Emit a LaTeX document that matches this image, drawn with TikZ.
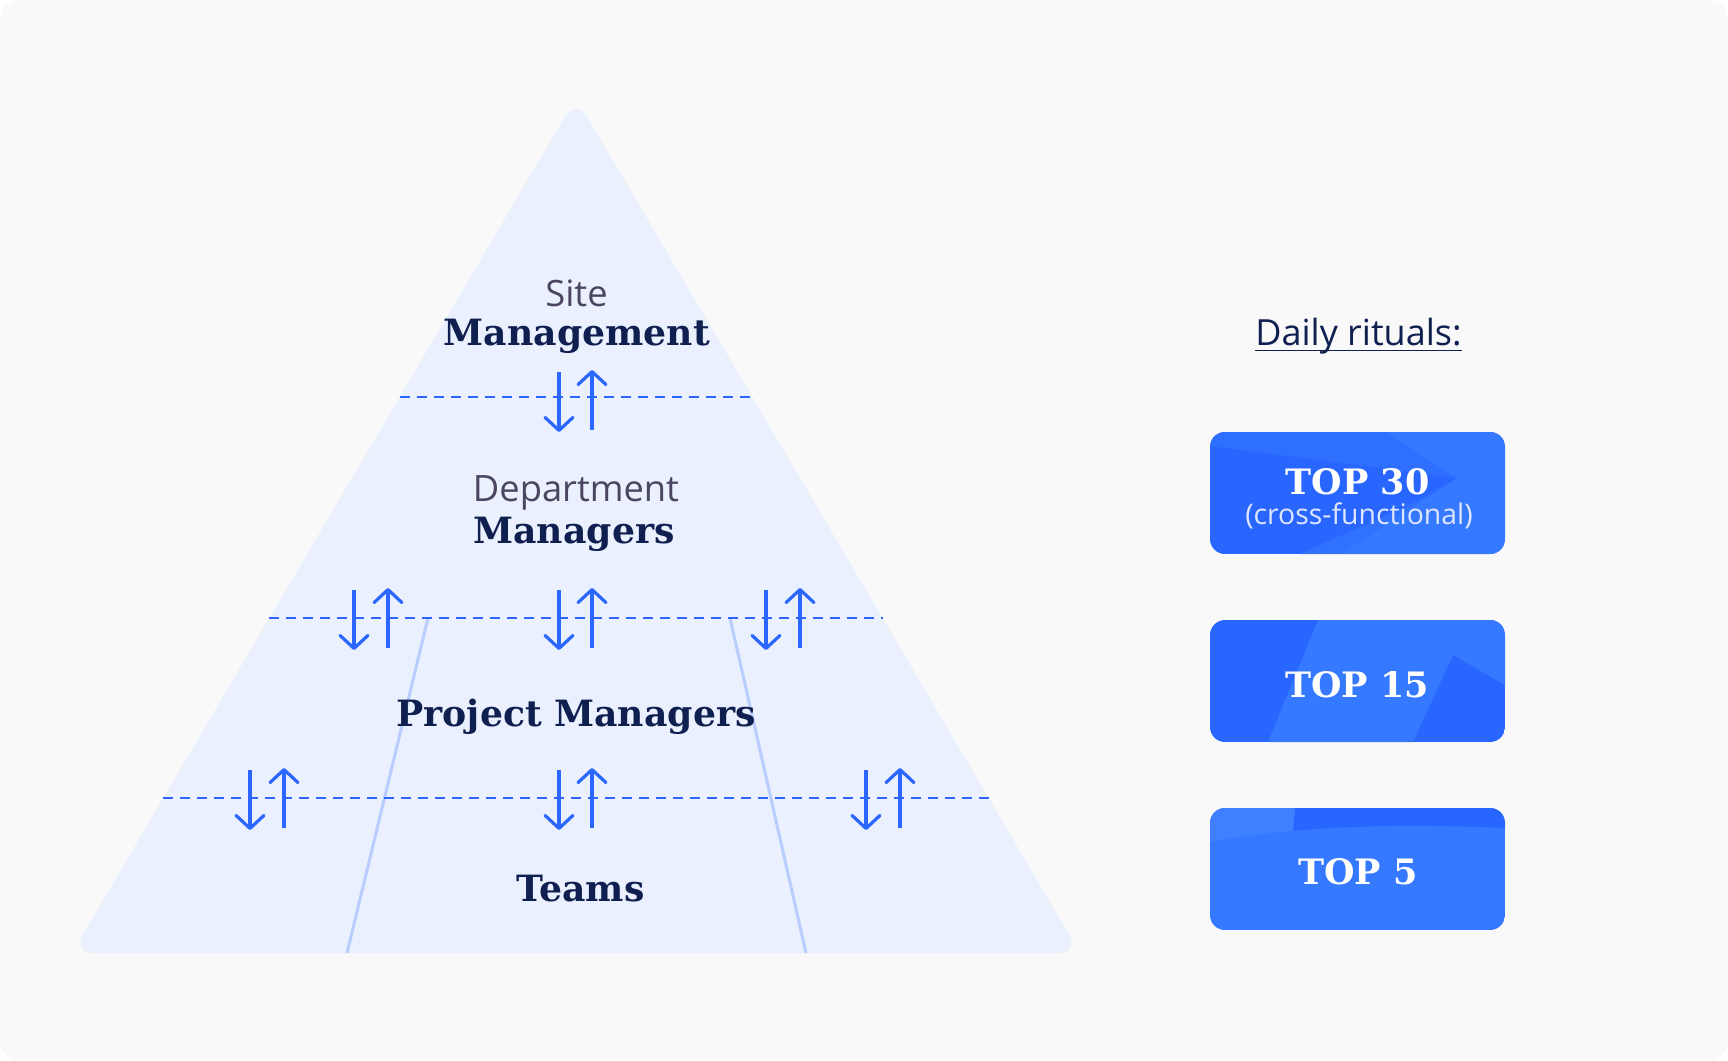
\documentclass[tikz,border=0pt]{standalone}
\usepackage{fontspec}
\setmainfont{Open Sans}
\newfontfamily\serfont{DejaVu Serif}
\usetikzlibrary{arrows.meta,calc}
\definecolor{bg}{HTML}{F9F9F9}
\definecolor{pyr}{HTML}{EAF0FE}
\definecolor{navy}{HTML}{0F1F50}
\definecolor{grayv}{HTML}{4A4662}
\definecolor{accent}{HTML}{2B66FF}
\definecolor{lane}{HTML}{BACDFF}
\definecolor{boxa}{HTML}{2966FF}
\definecolor{boxb}{HTML}{3479FF}
\definecolor{subtxt}{HTML}{DDE5FF}
\begin{document}
\begin{tikzpicture}[x=1pt,y=-1pt,
  lbl/.style={anchor=base, inner sep=0pt, text=navy, font=\serfont\bfseries\fontsize{36.2}{42}\selectfont},
  sublbl/.style={anchor=base, inner sep=0pt, text=grayv, font=\fontsize{36.3}{42}\selectfont},
  boxlbl/.style={anchor=base, inner sep=0pt, text=white, font=\serfont\bfseries\fontsize{35}{42}\selectfont},
  boxsub/.style={anchor=base, inner sep=0pt, text=subtxt, font=\fontsize{28.4}{32}\selectfont},
  sep/.style={accent, line width=2pt, dash pattern=on 10pt off 7pt},
  laneline/.style={lane, line width=3pt},
  flow/.style={accent, line width=3.2pt, -{Straight Barb[length=13pt,width=28pt,round]}},
]
\useasboundingbox (0,0) rectangle (1728,1060);
\fill[white] (0,0) rectangle (1728,1060);
\fill[bg, rounded corners=20pt] (0,0) rectangle (1728,1060);

% pyramid
\coordinate (A) at (576,98);
\coordinate (L) at (72,953);
\coordinate (R) at (1080,953);
\fill[pyr, rounded corners=22pt] ($(L)!0.5!(R)$) -- (R) -- (A) -- (L) -- cycle;

% lanes
\coordinate (l1t) at (428,618);
\coordinate (l1b) at (347,953);
\coordinate (l2t) at (730,618);
\coordinate (l2b) at (806,953);
\draw[laneline] (l1t) -- (l1b);
\draw[laneline] (l2t) -- (l2b);

% separators
\foreach \t [count=\i] in {0.3497,0.6082,0.8187} {
  \coordinate (s\i l) at ($(A)!\t!(L)$);
  \coordinate (s\i r) at ($(A)!\t!(R)$);
  \draw[sep] (s\i l) -- (s\i r);
}

% arrows
\foreach \dx/\ux/\cy [count=\i] in {559/592/401, 354/388/619, 559/592/619, 766/800/619, 250/284/799, 559/592/799, 866/900/799} {
  \coordinate (ds\i) at (\dx,\cy-29);
  \coordinate (de\i) at (\dx,\cy+31);
  \coordinate (us\i) at (\ux,\cy+29);
  \coordinate (ue\i) at (\ux,\cy-31);
  \draw[flow] (ds\i) -- (de\i);
  \draw[flow] (us\i) -- (ue\i);
}

% labels
\node[sublbl] (site) at (576.5,306.7) {Site};
\node[lbl] (mgmt) at (576.8,345) {Management};
\node[sublbl] (dept) at (576,501.7) {Department};
\node[lbl] (dmgr) at (574,543) {Managers};
\node[lbl] (pmgr) at (576,726.7) {Project Managers};
\node[lbl] (teams) at (580.5,901.7) {Teams};

% right side
\node[anchor=base, inner sep=0pt, text=navy, font=\fontsize{36}{42}\selectfont] (daily) at (1358.5,345) {Daily rituals:};
\draw[navy, line width=1.6pt] ($(daily.base west)+(0,5.5)$) -- ($(daily.base east)+(0,5.5)$);

% TOP 30
\begin{scope}
  \clip[rounded corners=15pt] (1210,432) rectangle (1505,554);
  \fill[boxa] (1210,432) rectangle (1505,554);
  \fill[boxa!55!boxb] (1210,432) -- (1385,432) -- (1457,478) -- (1210,446) -- cycle;
  \fill[boxb] (1385,432) -- (1505,432) -- (1505,554) -- (1340,554) -- (1457,478) -- cycle;
  \fill[boxb!65!boxa] (1340,554) -- (1457,478) -- (1420,500) -- (1300,554) -- cycle;
\end{scope}
\node[boxlbl] (t30) at (1357.5,494.3) {TOP 30};
\node[boxsub] (t30s) at (1359,524) {(cross-functional)};

% TOP 15
\begin{scope}
  \clip[rounded corners=15pt] (1210,620) rectangle (1505,742);
  \fill[boxa] (1210,620) rectangle (1505,742);
  \fill[boxb] (1318,620) -- (1505,620) -- (1505,685) -- (1453,655) -- (1413,742) -- (1268,742) -- cycle;
\end{scope}
\node[boxlbl] (t15) at (1357,697) {TOP 15};

% TOP 5
\begin{scope}
  \clip[rounded corners=15pt] (1210,808) rectangle (1505,930);
  \fill[boxb] (1210,808) rectangle (1505,930);
  \fill[boxa] (1295,808) -- (1505,808) -- (1505,828) .. controls (1420,824) and (1340,826) .. (1293,831) -- cycle;
  \fill[boxb!95!white] (1210,808) -- (1295,808) -- (1293,831) .. controls (1260,834) and (1230,838) .. (1210,842) -- cycle;
\end{scope}
\node[boxlbl] (t5) at (1358,884) {TOP 5};
\end{tikzpicture}
\end{document}
